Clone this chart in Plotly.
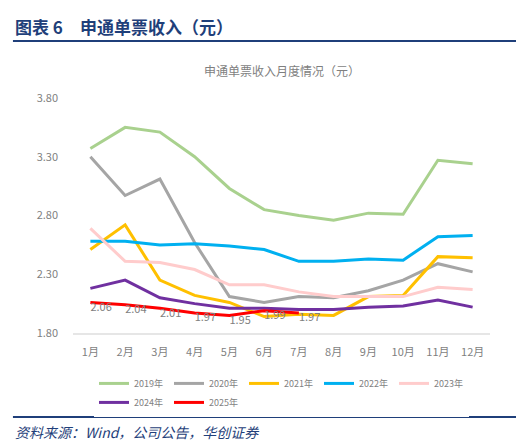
import plotly.graph_objects as go

months = ["1月","2月","3月","4月","5月","6月","7月","8月","9月","10月","11月","12月"]
y2019 = [3.37,3.55,3.51,3.30,3.03,2.85,2.80,2.76,2.82,2.81,3.27,3.24]
y2020 = [3.30,2.97,3.11,2.57,2.11,2.06,2.11,2.10,2.16,2.25,2.39,2.32]
y2021 = [2.51,2.72,2.25,2.12,2.06,1.94,1.96,1.95,2.11,2.12,2.45,2.44]
y2022 = [2.58,2.58,2.55,2.56,2.54,2.51,2.41,2.41,2.43,2.42,2.62,2.63]
y2023 = [2.69,2.41,2.40,2.34,2.21,2.21,2.15,2.11,2.11,2.11,2.19,2.17]
y2024 = [2.18,2.25,2.10,2.05,2.01,2.01,2.00,2.00,2.02,2.03,2.08,2.02]
y2025 = [2.06,2.04,2.01,1.97,1.95,1.99,1.97]

series = [("2019年",y2019,"#A9D18E"),("2020年",y2020,"#A5A5A5"),("2021年",y2021,"#FFC000"),
          ("2022年",y2022,"#00B0F0"),("2023年",y2023,"#FFCCCC"),("2024年",y2024,"#7030A0"),
          ("2025年",y2025,"#FF0000")]

fig = go.Figure()
for name, ys, c in series:
    is25 = name == "2025年"
    fig.add_trace(go.Scatter(
        x=months[:len(ys)], y=ys, name=name, mode="lines+text" if is25 else "lines",
        line=dict(color=c, width=3),
        text=[f"{v:.2f}" for v in ys] if is25 else None,
        textposition="bottom right", textfont=dict(color="#7F7F7F", size=11),
        cliponaxis=False))

fig.update_layout(
    width=524, height=441, margin=dict(l=65, r=42, t=90, b=116, autoexpand=False),
    paper_bgcolor="white", plot_bgcolor="white",
    font=dict(family="Noto Sans CJK SC", color="#7F7F7F", size=11),
    showlegend=True,
    legend=dict(orientation="h", x=0.5, xanchor="center", y=-0.255, yanchor="middle",
                font=dict(size=9, color="#7F7F7F"), itemwidth=30, tracegroupgap=0,
                entrywidth=30, entrywidthmode="pixels"),
    xaxis=dict(type="category", range=[-0.5, 11.5], showgrid=False, showline=True,
               linecolor="#E6E6E6", linewidth=2, ticks="", tickfont=dict(size=11),
               ticklabelstandoff=8, automargin=False),
    yaxis=dict(range=[1.8, 3.8], tickvals=[1.8, 2.3, 2.8, 3.3, 3.8], tickformat=".2f",
               showgrid=False, zeroline=False, tickfont=dict(size=11), automargin=False,
               ticklabelstandoff=14),
)
fig.add_annotation(text="<b>图表 6　申通单票收入（元）</b>", xref="paper", yref="paper",
                   x=-0.144, y=1.306, xanchor="left", yanchor="middle", showarrow=False,
                   font=dict(size=17, color="#1F3F7A", family="Noto Sans CJK SC"))
fig.add_annotation(text="申通单票收入月度情况（元）", xref="paper", yref="paper",
                   x=0.5, y=1.119, xanchor="center", yanchor="middle", showarrow=False,
                   font=dict(size=12, color="#7F7F7F"))
fig.add_annotation(text="<i>资料来源：Wind，公司公告，华创证券</i>", xref="paper", yref="paper",
                   x=-0.144, y=-0.42, xanchor="left", yanchor="middle", showarrow=False,
                   font=dict(size=14, color="#1F3F7A", family="Noto Sans CJK SC"))
fig.add_shape(type="line", xref="paper", yref="paper", x0=-0.144, x1=1.089, y0=1.243, y1=1.243,
              line=dict(color="#1F3F7A", width=2))
fig.add_shape(type="line", xref="paper", yref="paper", x0=-0.144, x1=1.089, y0=-0.357, y1=-0.357,
              line=dict(color="#1F3F7A", width=2))
fig.write_html("out.html")
